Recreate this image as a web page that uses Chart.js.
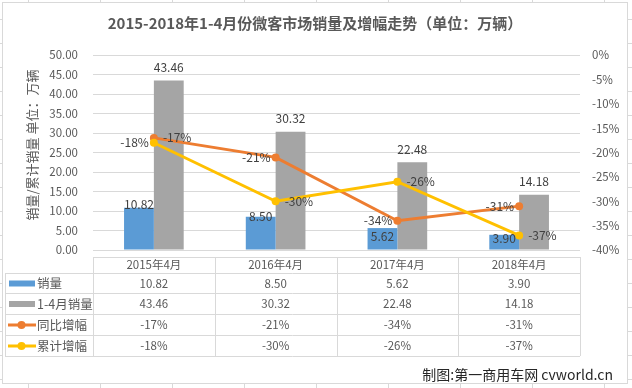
<!DOCTYPE html>
<html>
<head>
<meta charset="utf-8">
<script src="https://cdn.jsdelivr.net/npm/chart.js@4.4.0/dist/chart.umd.min.js"></script>
<style>
html, body { margin: 0; padding: 0; }
body {
    width: 632px; height: 388px; overflow: hidden; background-color: #fff;
    background-image: linear-gradient(to right, #d9d9d9 1px, transparent 1px),
                      linear-gradient(to bottom, #d9d9d9 1px, transparent 1px);
    background-size: 72px 24px;
    background-position: 28px 19px;
}
canvas { display: block; }
</style>
</head>
<body>
<canvas id="chart" width="632" height="388"></canvas>
<script>
// data
const categories = ['2015年4月', '2016年4月', '2017年4月', '2018年4月'];
const aprilSales = [10.82, 8.50, 5.62, 3.90];      // 销量
const ytdSales = [43.46, 30.32, 22.48, 14.18];     // 1-4月销量
const yoyGrowth = [-17, -21, -34, -31];            // 同比增幅 (%)
const ytdGrowth = [-18, -30, -26, -37];            // 累计增幅 (%)
const seriesNames = ['销量', '1-4月销量', '同比增幅', '累计增幅'];

const titleText = '2015-2018年1-4月份微客市场销量及增幅走势（单位：万辆）';
const yTitleText = '销量/累计销量 单位：万辆';
const creditText = '制图:第一商用车网 cvworld.cn';

const FONT = '"Noto Sans CJK SC", sans-serif';
const BLUE = '#5b9bd5', GRAY = '#a5a5a5', ORANGE = '#ed7d31', YELLOW = '#ffc000';
const GRID = '#d9d9d9', TEXT = '#595959', LABEL = '#404040';

// label placement like the Excel original
const blueLabelShift = [-3, 0, 8, 4];
const yoySide = ['right', 'left', 'left', 'left'];
const ytdSide = ['left', 'right', 'right', 'right'];

const framePlugin = {
    id: 'frame',
    beforeDraw(chart) {
        const c = chart.ctx;
        c.save();
        c.fillStyle = '#fff';
        c.fillRect(2, 2, 626, 382);
        c.strokeStyle = GRID;
        c.lineWidth = 1;
        c.strokeRect(2.5, 2.5, 625, 381);

        c.fillStyle = TEXT;
        c.textAlign = 'center';
        c.textBaseline = 'middle';
        c.font = 'bold 15px ' + FONT;
        c.fillText(titleText, 315, 23);

        c.translate(32, 145);
        c.rotate(-Math.PI / 2);
        c.font = '13px ' + FONT;
        c.fillText(yTitleText, 0, 0);
        c.restore();
    }
};

const labelPlugin = {
    id: 'labels',
    afterDatasetsDraw(chart) {
        const c = chart.ctx;
        c.save();
        c.font = '12px ' + FONT;
        c.fillStyle = LABEL;
        c.textBaseline = 'middle';
        c.textAlign = 'center';
        chart.getDatasetMeta(0).data.forEach((b, i) => {
            c.fillText(aprilSales[i].toFixed(2), b.x, b.y + blueLabelShift[i]);
        });
        chart.getDatasetMeta(1).data.forEach((b, i) => {
            c.fillText(ytdSales[i].toFixed(2), b.x, b.y - 13);
        });
        [[2, yoyGrowth, yoySide], [3, ytdGrowth, ytdSide]].forEach(([d, vals, side]) => {
            chart.getDatasetMeta(d).data.forEach((p, i) => {
                const right = side[i] === 'right';
                c.textAlign = right ? 'left' : 'right';
                c.fillText(vals[i] + '%', p.x + (right ? 9 : -5), p.y);
            });
        });
        c.restore();
    }
};

// data table under the plot
const tablePlugin = {
    id: 'table',
    afterDraw(chart) {
        const c = chart.ctx;
        const x = chart.scales.x;
        const area = chart.chartArea;
        const colW = (area.right - area.left) / categories.length;
        const rowLines = [273, 293, 314, 335, 356];
        const top = 257, legendLeft = 5;

        c.save();
        c.strokeStyle = GRID;
        c.lineWidth = 1;
        c.beginPath();
        c.moveTo(area.left, top + 0.5);
        c.lineTo(area.right, top + 0.5);
        rowLines.forEach(y => {
            c.moveTo(legendLeft, y + 0.5);
            c.lineTo(area.right, y + 0.5);
        });
        for (let i = 0; i <= categories.length; i++) {
            const lx = Math.round(area.left + i * colW) + 0.5;
            c.moveTo(lx, top);
            c.lineTo(lx, rowLines[rowLines.length - 1]);
        }
        c.moveTo(legendLeft + 0.5, rowLines[0]);
        c.lineTo(legendLeft + 0.5, rowLines[rowLines.length - 1]);
        c.stroke();

        c.textBaseline = 'middle';
        c.textAlign = 'center';
        c.fillStyle = TEXT;
        c.font = '11.5px ' + FONT;
        categories.forEach((cat, i) => c.fillText(cat, x.getPixelForValue(i), (top + rowLines[0]) / 2));

        const rows = [
            aprilSales.map(v => v.toFixed(2)),
            ytdSales.map(v => v.toFixed(2)),
            yoyGrowth.map(v => v + '%'),
            ytdGrowth.map(v => v + '%')
        ];
        const colors = [BLUE, GRAY, ORANGE, YELLOW];
        rows.forEach((vals, r) => {
            const cy = (rowLines[r] + rowLines[r + 1]) / 2 + 0.5;
            c.textAlign = 'center';
            c.fillStyle = TEXT;
            c.font = '11.5px ' + FONT;
            vals.forEach((v, i) => c.fillText(v, x.getPixelForValue(i), cy));

            // legend key
            c.fillStyle = colors[r];
            if (r < 2) {
                c.fillRect(9, cy - 3, 26, 6);
            } else {
                c.fillRect(8, cy - 1.5, 28, 3);
                c.beginPath();
                c.arc(21.5, cy, 4, 0, Math.PI * 2);
                c.fill();
            }
            c.fillStyle = TEXT;
            c.textAlign = 'left';
            c.font = '12.5px ' + FONT;
            c.fillText(seriesNames[r], 37, cy);
        });

        c.textAlign = 'right';
        c.fillStyle = '#262626';
        c.font = '14px ' + FONT;
        c.fillText(creditText, 613, 375);
        c.restore();
    }
};

new Chart(document.getElementById('chart').getContext('2d'), {
    type: 'bar',
    data: {
        labels: categories,
        datasets: [
            { label: seriesNames[0], data: aprilSales, backgroundColor: BLUE, yAxisID: 'y', order: 3 },
            { label: seriesNames[1], data: ytdSales, backgroundColor: GRAY, yAxisID: 'y', order: 3 },
            {
                type: 'line', label: seriesNames[2], data: yoyGrowth, yAxisID: 'y2', order: 2,
                borderColor: ORANGE, backgroundColor: ORANGE, borderWidth: 3,
                pointRadius: 4, pointBackgroundColor: ORANGE, pointBorderWidth: 0, tension: 0
            },
            {
                type: 'line', label: seriesNames[3], data: ytdGrowth, yAxisID: 'y2', order: 1,
                borderColor: YELLOW, backgroundColor: YELLOW, borderWidth: 3,
                pointRadius: 4, pointBackgroundColor: YELLOW, pointBorderWidth: 0, tension: 0
            }
        ]
    },
    options: {
        responsive: false,
        animation: false,
        layout: { padding: { top: 55, left: 0, right: 0, bottom: 0 } },
        datasets: { bar: { barPercentage: 1, categoryPercentage: 0.49 } },
        plugins: {
            legend: { display: false },
            tooltip: { enabled: false },
            title: { display: false }
        },
        scales: {
            x: {
                ticks: { display: false },
                grid: { display: false },
                border: { display: false },
                afterFit(scale) { scale.height = 138; }
            },
            y: {
                position: 'left',
                min: 0,
                max: 50,
                ticks: {
                    stepSize: 5,
                    padding: 15,
                    color: TEXT,
                    font: { family: FONT, size: 11.5 },
                    callback: v => v.toFixed(2)
                },
                grid: { color: GRID, drawTicks: false },
                border: { display: false },
                afterFit(scale) { scale.width = 93; }
            },
            y2: {
                position: 'right',
                min: -40,
                max: 0,
                ticks: {
                    stepSize: 5,
                    padding: 12,
                    color: TEXT,
                    font: { family: FONT, size: 11.5 },
                    callback: v => v + '%'
                },
                grid: { display: false, drawTicks: false },
                border: { display: false },
                afterFit(scale) { scale.width = 52; }
            }
        }
    },
    plugins: [framePlugin, labelPlugin, tablePlugin]
});
</script>
</body>
</html>
